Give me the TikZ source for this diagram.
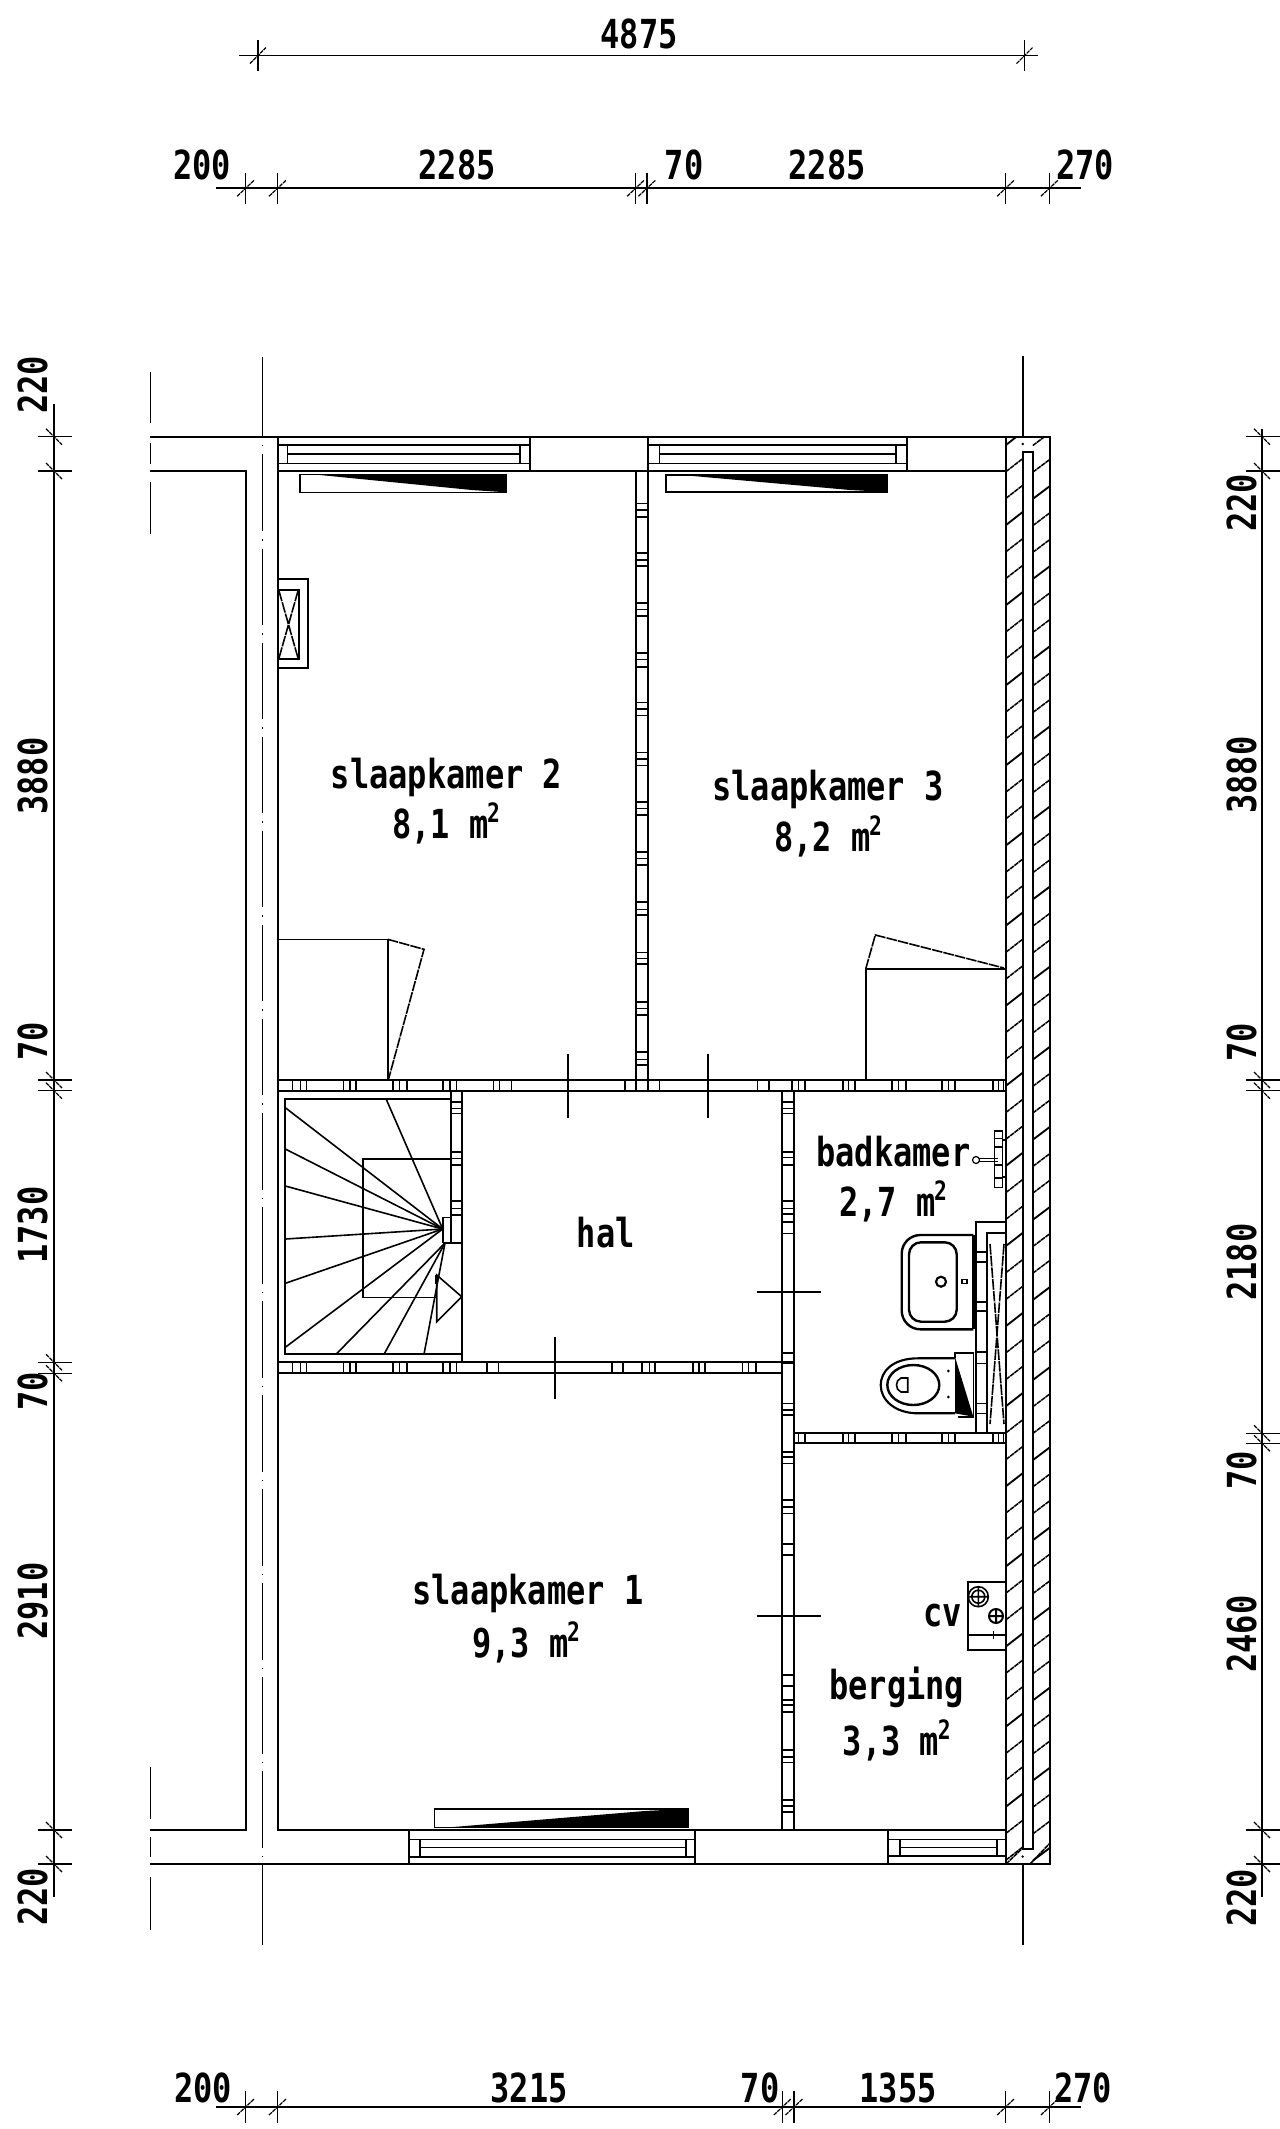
\documentclass[tikz,border=0pt]{standalone}
\usepackage{fontspec}
\newfontfamily\cad[FakeStretch=0.8]{DejaVu Sans Mono}
\newcommand{\sqm}{m\kern-1pt\raisebox{12pt}{\fontsize{20}{20}\selectfont 2}}
\tikzset{
  wall/.style={line width=1.5pt,black},
  fine/.style={line width=1.2pt,black},
  thick wall/.style={line width=2pt,black},
  dim/.style={line width=1.3pt,black},
  hair/.style={line width=0.9pt,black},
  slash/.style={line width=0.9pt,black,dash pattern=on 3pt off 0.6pt},
  stripe/.style={line width=1.15pt,black,dash pattern=on 3.5pt off 0.5pt},
  broken/.style={line width=1.2pt,black,dash pattern=on 8pt off 0.8pt},
  label/.style={anchor=base,inner sep=0pt,font=\cad\bfseries\fontsize{30}{30}\selectfont},
  vlabel/.style={label,rotate=90}
}
\begin{document}
\begin{tikzpicture}[x=0.75pt,y=-0.75pt]
\useasboundingbox (0,0) rectangle (1280,2129);
\fill[white] (0,0) rectangle (1280,2129);

% ---- main walls
\draw[wall] (150,436.7) -- (1050,436.7) -- (1050,1864) -- (150,1864);
\draw[wall] (150,471) -- (246,471) -- (246,1830) -- (150,1830);
\draw[wall] (1006,471) -- (277.7,471) -- (277.7,1830) -- (1006,1830);
\draw[thick wall] (1006,436.7) -- (1006,1864);
\draw[wall] (1022.7,451.7) -- (1022.7,1849.3) -- (1032.7,1849.3) -- (1032.7,451.7) -- cycle;
\draw[dim] (1022.7,356) -- (1022.7,436.7);
\draw[dim] (1022.7,1864) -- (1022.7,1945);
\fill (1022.7,444) circle (1.3);
\fill (1022.7,1856.5) circle (1.3);

% hatching of the outer wall
\begin{scope}
  \clip (1006,436.7) rectangle (1022.7,1864);
  \foreach \k in {-3,...,55} {
    \pgfmathtruncatemacro{\m}{mod(\k+30,3)}
    \pgfmathsetmacro{\ya}{498.3+26.7*(\k-2)}
    \ifnum\m=0
      \draw[line width=1.4pt] (1006,\ya) -- (1022.7,\ya-13);
    \else
      \draw[stripe] (1006,\ya) -- (1022.7,\ya-13);
    \fi
  }
\end{scope}
\begin{scope}
  \clip (1032.7,436.7) rectangle (1050,1864);
  \foreach \k in {-3,...,55} {
    \pgfmathtruncatemacro{\m}{mod(\k+31,3)}
    \pgfmathsetmacro{\ya}{499+26.7*(\k-2)}
    \ifnum\m=0
      \draw[line width=1.4pt] (1032.7,\ya) -- (1050,\ya-13);
    \else
      \draw[stripe] (1032.7,\ya) -- (1050,\ya-13);
    \fi
  }
\end{scope}
\draw[stripe] (1006,1864) -- (1022.7,1848);
\draw[stripe] (1030,1864) -- (1050,1843);

% axes
\draw[dim] (262.4,357) -- (262.4,436.7);
\draw[dim] (262.4,1864) -- (262.4,1945);
\draw[dim,dash pattern=on 1.1pt off 6pt on 57.45pt off 6pt] (262.4,445) -- (262.4,1864);
\draw[dim] (150.5,372) -- (150.5,423);
\draw[dim] (150.5,443) -- (150.5,464);
\draw[dim] (150.5,482) -- (150.5,534);
\draw[dim] (150.5,1767) -- (150.5,1819);
\draw[dim] (150.5,1837) -- (150.5,1857);
\draw[dim] (150.5,1877) -- (150.5,1930);

% ---- windows (top)
\draw[wall] (277.7,436.7) -- (277.7,471) (530,436.7) -- (530,471);
\draw[fine] (277.7,444.7) -- (530,444.7) (287.3,454) -- (520,454) (277.7,463.3) -- (530,463.3);
\draw[fine] (287.3,444.7) -- (287.3,463.3) (520,444.7) -- (520,463.3);
\draw[wall] (647.7,436.7) -- (647.7,471) (907.3,436.7) -- (907.3,471);
\draw[fine] (647.7,444.7) -- (907.3,444.7) (659.3,453.7) -- (896,453.7) (647.7,463.3) -- (907.3,463.3);
\draw[fine] (659.3,444.7) -- (659.3,463.3) (896,444.7) -- (896,463.3);

% ---- windows (bottom)
\draw[wall] (409,1830) -- (409,1864) (695,1830) -- (695,1864);
\draw[fine] (409,1839.3) -- (695,1839.3) (419.7,1847.3) -- (685.7,1847.3) (409,1856.7) -- (695,1856.7);
\draw[fine] (419.7,1839.3) -- (419.7,1856.7) (685.7,1839.3) -- (685.7,1856.7);
\draw[wall] (888.3,1830) -- (888.3,1864);
\draw[fine] (888.3,1839.3) -- (1006,1839.3) (900,1847.3) -- (996.7,1847.3) (888.3,1856) -- (1006,1856);
\draw[fine] (900,1839.3) -- (900,1856) (996.7,1839.3) -- (996.7,1856);

% ---- radiators / wedges
\draw[fine] (300,474.3) rectangle (506,492.3);
\fill (312.7,474.3) -- (506,474.3) -- (506,492.3) -- (471.7,490) -- cycle;
\draw[fine] (666,474.7) rectangle (887.3,492);
\fill (678.3,474.7) -- (887.3,474.7) -- (887.3,492) -- (850,490) -- cycle;
\draw[fine] (434.6,1808.7) rectangle (688,1827.3);
\fill (449.6,1827.3) -- (688,1827.3) -- (688,1808.7) -- (644.7,1811) -- cycle;

% ---- duct
\draw[wall] (277.7,578.7) -- (308.3,578.7) -- (308.3,668.3) -- (277.7,668.3);
\draw[fine] (277.7,590) -- (299,590) -- (299,659) -- (277.7,659);
\draw[broken] (279,591) -- (298,658) (298,591) -- (279,658);

% ---- corridor walls
\draw[wall] (277.7,1080) -- (1006,1080) (277.7,1090.7) -- (1006,1090.7);
\draw[wall] (277.7,1362.3) -- (782.3,1362.3) (277.7,1373.3) -- (782.3,1373.3);
\draw[wall] (794,1433.3) -- (1006,1433.3) (794,1443.3) -- (1006,1443.3);
\foreach \x in {292.5,300.3,306.3,343.6,350,356,392.8,399.6,406.7,442.7,450,456.3,493.6,499.6,511.5,624.8,659.3,757.3,769,791.7,798.3,805,842.7,848.3,855,891.7,898.3,906,941.7,948.3,955,992.7,998.3,1003.5}
  \draw[fine] (\x,1080) -- (\x,1090.7);
\foreach \x in {292.5,300.3,306.3,343.6,350,356,392.8,399.6,406.7,442.7,450,456.3,486.7,498.3,611.7,623,641.7,649.3,655,692.7,699,705,742.3,748.3,756}
  \draw[fine] (\x,1362.3) -- (\x,1373.3);
\foreach \x in {798.3,805,842.7,848.3,855,891.7,898.3,906,941.7,948.3,955,992.7,998.3,1003.5}
  \draw[fine] (\x,1433.3) -- (\x,1443.3);

% partition between bedrooms
\draw[wall] (636,471) -- (636,1090.7) (647.7,471) -- (647.7,1090.7);
\foreach \y in {503.3,510,516.7,552.7,560,566,602.7,609.3,615.7,652.7,659.3,666.7,702.5,709,715.5,752.5,759,765.5,802,808.5,815,852,858.5,865,901.7,909.3,915,952.3,958.3,964,1001.7,1008.3,1015,1051.7,1059.3,1065}
  \draw[fine] (636,\y) -- (647.7,\y);

% wall east of hall
\draw[wall] (782.3,1090.7) -- (782.3,1830) (794,1090.7) -- (794,1830);
\foreach \y in {1102,1108.3,1113.3,1151.7,1157.5,1165,1200.7,1208.3,1214,1221.7,1233.3,1352.7,1403.3,1410,1415,1451.7,1456.7,1463.3,1500,1506.7,1513.3,1544,1555,1675,1686,1700,1705,1711.7,1750,1756.7,1762.3,1800,1806,1811.7}
  \draw[fine] (782.3,\y) -- (794,\y);
\fill (782.3,1360.5) rectangle (794,1364);

% ---- stairs
\draw[wall] (450.7,1090.7) -- (450.7,1242.7) (461.7,1090.7) -- (461.7,1362.3);
\draw[wall] (450.7,1098.7) -- (285.3,1098.7) -- (285.3,1354.3) -- (461.7,1354.3);
\foreach \y in {1101.7,1108.3,1113.3,1151.7,1158.3,1165,1200.7,1208.3,1215}
  \draw[fine] (450.7,\y) -- (461.7,\y);
\draw[fine] (442.7,1242.7) -- (442.7,1217.3) -- (450.7,1217.3);
\draw[fine] (442.7,1242.7) -- (461.7,1242.7);
\draw[fine] (450.7,1159) -- (363,1159) -- (363,1297.3) -- (436.7,1297.3);
\coordinate (fan) at (442.7,1229);
\coordinate (fanb) at (445,1243);
\foreach \p in {(386,1098.7),(285.3,1107.7),(285.3,1149),(285.3,1186),(285.3,1239),(285.3,1283.3),(285.3,1347.3)}
  \draw[fine] (fan) -- \p;
\foreach \p in {(336,1354.3),(384,1354.3),(424,1354.3)}
  \draw[fine] (fanb) -- \p;
\draw[fine] (436.7,1275) -- (461.7,1296.7) -- (436.7,1321.7) -- cycle;
\draw[line width=2pt] (436.7,1275) -- (436.7,1284);

% ---- built-in cupboards
\draw[fine] (277.7,939.3) -- (387.7,939.3) -- (387.7,1080);
\draw[broken] (387.7,939.3) -- (424,949.3) -- (388.3,1080);
\draw[fine] (1006,969) -- (865.7,969) -- (865.7,1080);
\draw[broken] (865.7,969) -- (875.3,935) -- (1004,968);

% ---- door marks
\draw[dim] (567.7,1054) -- (567.7,1118);
\draw[dim] (708,1054) -- (708,1118);
\draw[dim] (554.7,1337) -- (554.7,1399);
\draw[dim] (756.7,1291.7) -- (821,1291.7);
\draw[dim] (756.7,1616) -- (821,1616);

% ---- bathroom shaft
\draw[wall] (975.7,1433.3) -- (975.7,1221.7) -- (1006,1221.7);
\draw[wall] (987.3,1433.3) -- (987.3,1232.7) -- (1006,1232.7);
\foreach \y in {1251.7,1261.7,1301.7,1310.7,1351.7,1363.3,1403.3,1413.3}
  \draw[fine] (975.7,\y) -- (987.3,\y);
\draw[broken] (990,1244) -- (1004,1424) (1004,1244) -- (990,1424);

% sink
\draw[line width=1.8pt,rounded corners=14pt] (973.3,1235) -- (901.7,1235) -- (901.7,1329.3) -- (973.3,1329.3);
\draw[line width=2pt] (973.3,1235) -- (973.3,1329.3);
\draw[line width=1.8pt,rounded corners=9pt] (909,1242.3) rectangle (956.7,1321.7);
\draw[line width=1.6pt] (941,1281.7) circle (5);
\draw[hair] (962,1279.7) rectangle (967,1283.7);

% toilet
\draw[line width=1.6pt] (955,1358.3) -- (918,1358.3) .. controls (892,1358.3) and (880.7,1372) .. (880.7,1385) .. controls (880.7,1400) and (895,1413.3) .. (918,1413.3) -- (955,1413.3);
\draw[line width=1.8pt] (913.3,1385) ellipse (26 and 20);
\draw[fine] (907.7,1378) -- (901,1378) .. controls (895,1380) and (895,1390) .. (901,1392) -- (907.7,1392) -- cycle;
\fill (955,1357) -- (973.3,1416.7) -- (955,1413.3) -- cycle;
\draw[fine] (955,1358) -- (955,1352.7) -- (973.3,1352.7) -- (973.3,1416.7) -- (958,1416.7);
\fill (948.3,1371) circle (1.5) (948.3,1397) circle (1.5);

% shower tap
\draw[fine] (994.3,1130.7) rectangle (1002.3,1187.3);
\draw[fine] (994.3,1138.3) -- (1002.3,1138.3) (994.3,1147) -- (1002.3,1147) (994.3,1165) -- (1002.3,1165) (994.3,1178) -- (1002.3,1178);
\draw[fine] (1002.3,1140) rectangle (1006,1177);
\draw[fine] (979,1158.5) -- (998,1158.5) (979,1161.5) -- (998,1161.5);
\draw[hair] (976,1160) circle (3.5);

% boiler
\draw[wall] (1006,1581.7) -- (967.7,1581.7) -- (967.7,1650) -- (1006,1650);
\draw[fine] (967.7,1635) -- (1006,1635);
\draw[fine] (993.3,1631) -- (993.3,1639);
\draw[fine] (978.3,1596.7) circle (10) (978.3,1596.7) circle (6.5) (968.3,1596.7) -- (988.3,1596.7) (978.3,1586.7) -- (978.3,1606.7);
\draw[line width=1.5pt] (996,1616) circle (7) (989,1616) -- (1003,1616) (996,1609) -- (996,1623);

% ---- dimension lines top
\draw[dim] (239,55.6) -- (1038,55.6);
\foreach \x in {258,1024.5} {
  \draw[dim] (\x,40) -- (\x,71);
  \draw[slash] (\x-8,63.6) -- (\x+8,47.6);
}
\draw[dim] (216,188.3) -- (1080.6,188.3);
\foreach \x in {245.6,277.5,635.6,646.9,1005.6,1049.4} {
  \draw[hair,line width=1.1pt] (\x,172.7) -- (\x,204);
  \draw[slash] (\x-8.5,196.3) -- (\x+8.5,180.3);
}
% bottom
\draw[dim] (216,2107) -- (1080.6,2107);
\foreach \x in {245.6,277.5,782.3,794,1005.6,1049.4} {
  \draw[hair,line width=1.1pt] (\x,2091) -- (\x,2123);
  \draw[slash] (\x-8.5,2115) -- (\x+8.5,2099);
}
% left
\draw[dim] (54,404) -- (54,1897);
\foreach \y in {436.7,471,1080,1090.7,1362.3,1373.3,1830,1864} {
  \draw[hair,line width=1.1pt] (38,\y) -- (71.7,\y);
  \draw[slash] (46,\y-8) -- (62,\y+8);
}
% right
\draw[dim] (1262,429) -- (1262,1897);
\foreach \y in {436.7,471,1080,1090.7,1433.3,1443.3,1830,1864} {
  \draw[hair,line width=1.1pt] (1246,\y) -- (1280,\y);
  \draw[slash] (1254,\y-8) -- (1270,\y+8);
}

% ---- dimension texts
\node[label] (d1) at (639,49) {4875};
\node[label] (d2) at (202,180) {200};
\node[label] (d3) at (457,180) {2285};
\node[label] (d4) at (684,180) {70};
\node[label] (d5) at (827,180) {2285};
\node[label] (d6) at (1085,180) {270};
\node[label] (d7) at (203,2102) {200};
\node[label] (d8) at (529,2102) {3215};
\node[label] (d9) at (760,2102) {70};
\node[label] (d10) at (898,2102) {1355};
\node[label] (d11) at (1083,2102) {270};
\node[vlabel] (l1) at (47,385) {220};
\node[vlabel] (l2) at (47,776) {3880};
\node[vlabel] (l3) at (47,1041) {70};
\node[vlabel] (l4) at (47,1225) {1730};
\node[vlabel] (l5) at (47,1391) {70};
\node[vlabel] (l6) at (47,1601) {2910};
\node[vlabel] (l7) at (47,1897) {220};
\node[vlabel] (r1) at (1256,503) {220};
\node[vlabel] (r2) at (1256,775) {3880};
\node[vlabel] (r3) at (1256,1042) {70};
\node[vlabel] (r4) at (1256,1262) {2180};
\node[vlabel] (r5) at (1256,1470) {70};
\node[vlabel] (r6) at (1256,1634) {2460};
\node[vlabel] (r7) at (1256,1898) {220};

% ---- room texts
\node[label] (s2) at (446.5,788) {slaapkamer 2};
\node[label] (s2a) at (446,838) {8,1 \sqm};
\node[label] (s3) at (828,800) {slaapkamer 3};
\node[label] (s3a) at (828,851) {8,2 \sqm};
\node[label] (hal) at (605.7,1247) {hal};
\node[label] (bad) at (893.3,1166.7) {badkamer};
\node[label] (bada) at (893,1216.7) {2,7 \sqm};
\node[label] (s1) at (528,1604) {slaapkamer 1};
\node[label] (s1a) at (526,1657) {9,3 \sqm};
\node[label] (cv) at (942.7,1626.7) {cv};
\node[label] (ber) at (896.7,1699) {berging};
\node[label] (bera) at (896.7,1755) {3,3 \sqm};
\end{tikzpicture}
\end{document}
